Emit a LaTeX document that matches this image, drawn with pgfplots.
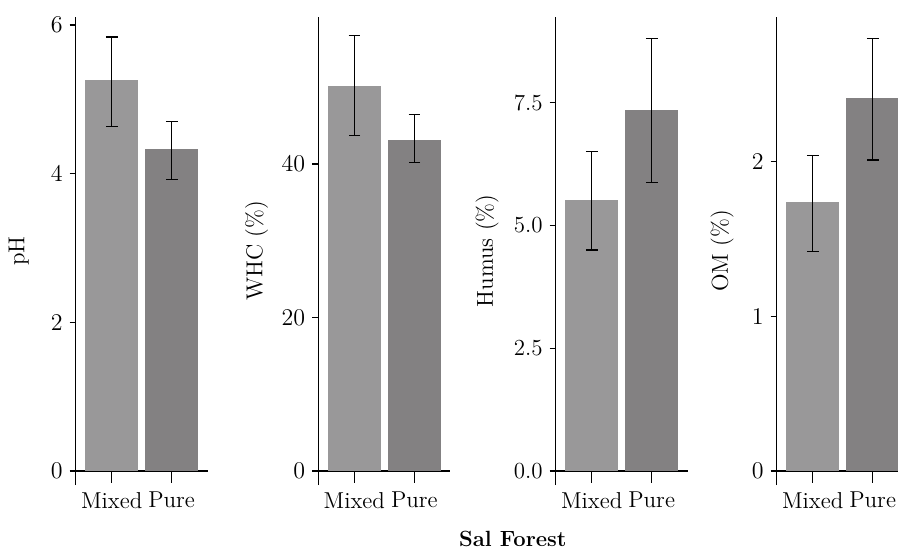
\documentclass[border=0pt]{standalone}
\usepackage{pgfplots}
\pgfplotsset{compat=1.18}
\definecolor{mixedc}{RGB}{153,152,153}
\definecolor{purec}{RGB}{131,129,130}
\pgfplotsset{
 panel/.style={
  scale only axis, width=66pt, height=234.15pt,
  xmin=0.4, xmax=2.6,
  axis y line=left, axis x line=middle,
  axis line style={-, line width=0.55pt, black},
  every inner x axis line/.append style={-},
  every outer y axis line/.append style={-},
  hide obscured x ticks=false, hide obscured y ticks=false,
  xtick={1,2}, xticklabels={Mixed,Pure},
  x tick style={draw=none},
  xticklabel style={yshift=-4pt},
  tick align=outside, major tick length=3pt,
  y tick style={black, line width=0.55pt},
  tick label style={font=\fontsize{11.5}{13}\selectfont},
  ybar, bar width=0.88,
  clip=false,
 },
 ylab/.style={every axis y label/.style={at={(axis description cs:#1,0.5)},rotate=90,anchor=center,font=\fontsize{11.5}{13}\selectfont}},
 mixedbar/.style={fill=mixedc, draw=none, bar shift=0pt,
   error bars/.cd, y dir=both, y explicit,
   error bar style={line width=0.6pt, black},
   error mark options={rotate=90, black, line width=0.6pt, mark size=2.9pt}},
 purebar/.style={fill=purec, draw=none, bar shift=0pt,
   error bars/.cd, y dir=both, y explicit,
   error bar style={line width=0.6pt, black},
   error mark options={rotate=90, black, line width=0.6pt, mark size=2.9pt}},
}
\newcommand{\xticks}{%
  \draw[line width=0.55pt] (axis cs:1,0) -- ([yshift=-6pt]axis cs:1,0);
  \draw[line width=0.55pt] (axis cs:2,0) -- ([yshift=-6pt]axis cs:2,0);}
\begin{document}
\begin{tikzpicture}
\path[use as bounding box] (0pt,0pt) rectangle (449pt,276.5pt);
\clip (0pt,0pt) rectangle (449pt,276.5pt);

% pH
\begin{axis}[panel, at={(37.85pt,34pt)}, anchor=south west,
  ymin=-0.188, ymax=6.112, ytick={0,2,4,6}, ylabel={pH}, ylab=-0.432]
\addplot[mixedbar] coordinates {(1,5.26) += (0,0.58) -= (0,0.62)};
\addplot[purebar] coordinates {(2,4.33) += (0,0.37) -= (0,0.41)};
\xticks
\end{axis}

% WHC
\begin{axis}[panel, at={(159.15pt,34pt)}, anchor=south west,
  ymin=-1.824, ymax=59.19, ytick={0,20,40}, ylabel={WHC (\%)}, ylab=-0.468]
\addplot[mixedbar] coordinates {(1,50.2) += (0,6.5) -= (0,6.5)};
\addplot[purebar] coordinates {(2,43.1) += (0,3.3) -= (0,2.9)};
\xticks
\end{axis}

% Humus
\begin{axis}[panel, at={(277.85pt,34pt)}, anchor=south west,
  ymin=-0.285, ymax=9.25, ytick={0,2.5,5,7.5}, yticklabels={0.0,2.5,5.0,7.5},
  ylabel={Humus (\%)}, ylab=-0.520]
\addplot[mixedbar] coordinates {(1,5.52) += (0,0.98) -= (0,1.02)};
\addplot[purebar] coordinates {(2,7.35) += (0,1.46) -= (0,1.47)};
\xticks
\end{axis}

% OM
\begin{axis}[panel, at={(388.35pt,34pt)}, anchor=south west,
  ymin=-0.0905, ymax=2.937, ytick={0,1,2}, ylabel={OM (\%)}, ylab=-0.414]
\addplot[mixedbar] coordinates {(1,1.74) += (0,0.30) -= (0,0.32)};
\addplot[purebar] coordinates {(2,2.41) += (0,0.385) -= (0,0.40)};
\xticks
\end{axis}

\node[anchor=base, font=\fontsize{11}{13}\selectfont\bfseries] at (256.4pt,3.5pt) {Sal Forest};
\end{tikzpicture}
\end{document}
